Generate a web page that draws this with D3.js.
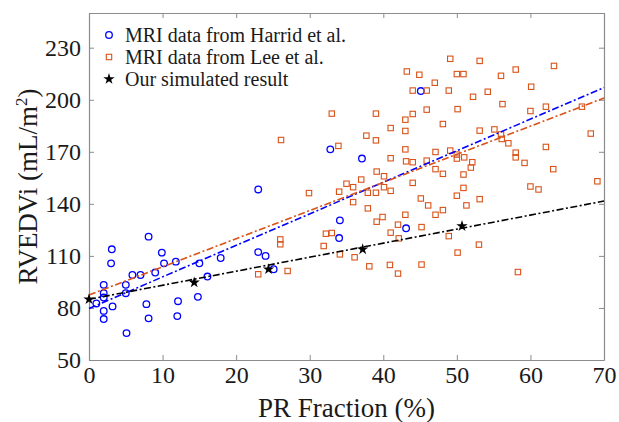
<!DOCTYPE html>
<html>
<head>
<meta charset="utf-8">
<script src="https://cdn.jsdelivr.net/npm/d3@7"></script>
<style>
  body { margin: 0; background: #fff; }
  svg text { font-family: "Liberation Serif", "Times New Roman", serif; fill: #1a1a1a; }
</style>
</head>
<body>
<div id="chart"></div>
<script>
// MRI data from Harrid et al. (PR fraction %, RVEDVi)
let harridX = [23.0, 8.1, 3.1, 9.9, 3.0, 10.2, 11.8, 17.9, 23.0, 24.0, 15.0, 5.9, 7.0, 9.0, 2.0, 5.0, 16.1, 2.0, 5.0, 2.0,
  1.0, 3.2, 2.0, 7.8, 12.1, 14.8, 2.0, 8.1, 12.0, 5.1, 25.1, 34.1, 34.0, 43.1, 32.8, 37.1, 45.1]
let harridY = [148.3, 121.1, 113.8, 111.9, 105.7, 105.7, 106.7, 108.8, 112.2, 110.0, 105.7, 99.0, 99.0, 100.4, 93.3, 93.3, 98.1, 88.5, 88.5, 86.0,
  82.6, 80.9, 78.3, 82.2, 83.9, 86.4, 73.6, 74.0, 75.3, 65.5, 102.3, 130.5, 120.3, 125.9, 171.4, 166.1, 205.0]

// MRI data from Lee et al.
let leeX = [43.2, 44.9, 44.0, 45.9, 45.9, 33.0, 39.0, 44.0, 43.0, 41.0, 43.0, 26.1, 37.7, 39.0, 33.9, 43.0, 41.0, 43.1, 44.0, 45.9,
  39.1, 40.1, 37.0, 35.0, 35.9, 40.1, 44.0, 29.9, 34.0, 37.9, 39.0, 41.0, 45.1,
  49.1, 53.1, 63.2, 58.0, 50.0, 50.9, 56.0, 47.0, 48.9, 54.2, 60.1, 52.2, 56.2, 62.1, 67.0, 50.1, 60.0, 48.1,
  53.1, 55.1, 56.0, 56.1, 57.0, 68.2, 62.1, 47.1, 49.1, 50.0, 50.0, 51.0, 58.0, 58.0, 52.1, 59.2, 47.1, 48.1,
  51.9, 50.9, 63.1, 69.1, 50.9, 60.0, 61.1, 50.0, 53.1,
  46.1, 51.3, 48.1, 47.1, 45.2, 48.9, 53.0, 50.1, 45.2, 58.3,
  35.9, 37.9, 43.0, 39.9, 39.1, 42.0, 32.2, 33.0, 26.0, 26.0, 41.0, 42.1, 31.9, 34.1, 36.1, 27.0, 23.0, 38.1, 40.9, 42.0]
let leeY = [216.3, 214.4, 205.3, 205.3, 194.3, 192.0, 192.0, 191.8, 188.5, 183.7, 182.0, 176.8, 179.3, 176.6, 173.4, 171.4, 166.3, 164.5, 164.0, 164.9,
  158.6, 155.9, 154.0, 151.6, 149.6, 149.6, 152.1, 146.2, 147.0, 146.4, 146.4, 147.5, 143.1,
  223.6, 222.4, 219.5, 217.4, 214.8, 214.8, 213.8, 209.8, 205.3, 204.6, 207.5, 201.7, 197.5, 196.0, 196.0, 194.6, 193.5, 186.0,
  182.2, 182.9, 180.0, 177.4, 174.9, 180.5, 172.8, 169.9, 170.7, 168.4, 166.1, 166.8, 169.5, 166.8, 164.0, 163.6, 160.0, 157.3,
  160.9, 156.9, 160.0, 153.0, 149.2, 150.0, 148.3, 144.7, 142.7,
  139.1, 139.1, 136.4, 133.7, 126.6, 121.4, 116.5, 111.9, 105.0, 100.7,
  141.0, 137.4, 133.7, 132.4, 129.7, 128.0, 122.8, 123.2, 119.5, 116.7, 123.4, 120.1, 115.7, 110.9, 109.2, 101.3, 99.4, 104.0, 104.8, 99.8]

// Our simulated result
let simX = [0, 14.3, 24.4, 37.2, 50.7]
let simY = [85.0, 94.7, 102.3, 113.8, 127.2]

// linear fits, value at x = 0 and x = 70
let fitX = [0, 70]
let harridFit = [79.7, 207.0]
let leeFit = [87.5, 201.0]
let simFit = [85.0, 141.6]

let xTicks = [0, 10, 20, 30, 40, 50, 60, 70]
let yTicks = [50, 80, 110, 140, 170, 200, 230]
let legendLabels = ["MRI data from Harrid et al.", "MRI data from Lee et al.", "Our simulated result"]

function generateChart() {
  let width = 619
  let height = 422
  let margin = ({top: 13, right: 15, bottom: 62, left: 89})

  let blue = "#0000ff"
  let orange = "#d95319"
  let axisColor = "#8c8c8c"
  let serif = "'Liberation Serif', 'Times New Roman', serif"

  let x = d3.scaleLinear([0, 70], [margin.left, width - margin.right])
  let y = d3.scaleLinear([50, 250], [height - margin.bottom, margin.top])

  const svg = d3.create("svg")
    .attr("width", width)
    .attr("height", height)
    .attr("viewBox", [0, 0, width, height])
    .style("background", "white")

  // axes, ticks pointing inward like matlab
  let styleAxis = g => g
    .attr("font-family", serif)
    .call(g => g.select(".domain").attr("stroke", axisColor).attr("stroke-width", 1.2))
    .call(g => g.selectAll(".tick line").attr("stroke", axisColor))
    .call(g => g.selectAll(".tick text").attr("fill", "#1a1a1a").attr("font-size", 24).style("font-family", serif))

  svg.append("g")
    .attr("transform", `translate(0,${y(50)})`)
    .call(d3.axisBottom(x).tickValues(xTicks).tickSize(-5).tickPadding(6).tickSizeOuter(0))
    .call(styleAxis)
  svg.append("g")
    .attr("transform", `translate(0,${y(250)})`)
    .call(d3.axisTop(x).tickValues(xTicks).tickSize(-5).tickFormat("").tickSizeOuter(0))
    .call(styleAxis)
  svg.append("g")
    .attr("transform", `translate(${x(0)},0)`)
    .call(d3.axisLeft(y).tickValues(yTicks).tickSize(-5).tickPadding(8).tickSizeOuter(0))
    .call(styleAxis)
  svg.append("g")
    .attr("transform", `translate(${x(70)},0)`)
    .call(d3.axisRight(y).tickValues(yTicks).tickSize(-5).tickFormat("").tickSizeOuter(0))
    .call(styleAxis)

  // axis titles
  svg.append("text")
    .attr("x", (x(0) + x(70)) / 2)
    .attr("y", 417)
    .attr("text-anchor", "middle")
    .attr("font-size", 27)
    .text("PR Fraction (%)")

  let yt = svg.append("text")
    .attr("transform", `translate(37,${(y(50) + y(250)) / 2}) rotate(-90)`)
    .attr("text-anchor", "middle")
    .attr("font-size", 27)
  yt.append("tspan").text("RVEDVi (mL/m")
  yt.append("tspan").attr("font-size", 17).attr("dy", -10).text("2")
  yt.append("tspan").attr("dy", 10).text(")")

  let harrid = harridX.map((v, i) => [v, harridY[i]])
  let lee = leeX.map((v, i) => [v, leeY[i]])
  let sim = simX.map((v, i) => [v, simY[i]])

  // Harrid circles
  svg.append("g")
    .selectAll("circle")
    .data(harrid)
    .join("circle")
    .attr("cx", d => x(d[0]))
    .attr("cy", d => y(d[1]))
    .attr("r", 3.3)
    .attr("fill", "none")
    .attr("stroke", blue)
    .attr("stroke-width", 1.3)

  // Lee squares
  let sq = 5.4
  svg.append("g")
    .selectAll("rect")
    .data(lee)
    .join("rect")
    .attr("x", d => x(d[0]) - sq / 2)
    .attr("y", d => y(d[1]) - sq / 2)
    .attr("width", sq)
    .attr("height", sq)
    .attr("fill", "none")
    .attr("stroke", orange)
    .attr("stroke-width", 1.1)

  // fit lines
  let line = d3.line().x(d => x(d[0])).y(d => y(d[1]))
  let fits = [
    {vals: harridFit, color: blue},
    {vals: leeFit, color: orange},
    {vals: simFit, color: "#000"}
  ]
  svg.append("g")
    .selectAll("path")
    .data(fits)
    .join("path")
    .attr("d", f => line(fitX.map((v, i) => [v, f.vals[i]])))
    .attr("fill", "none")
    .attr("stroke", f => f.color)
    .attr("stroke-width", 1.6)
    .attr("stroke-dasharray", "7,2.5,2,2.5")

  // simulated stars
  let star = d3.symbol(d3.symbolStar, 40)
  svg.append("g")
    .selectAll("path")
    .data(sim)
    .join("path")
    .attr("transform", d => `translate(${x(d[0])},${y(d[1])})`)
    .attr("d", star)
    .attr("fill", "#000")

  // legend
  let lg = svg.append("g")
  let rowY = [35, 57, 79]
  lg.append("circle").attr("cx", 109).attr("cy", rowY[0]).attr("r", 3.3)
    .attr("fill", "none").attr("stroke", blue).attr("stroke-width", 1.3)
  lg.append("rect").attr("x", 109 - sq / 2).attr("y", rowY[1] - sq / 2).attr("width", sq).attr("height", sq)
    .attr("fill", "none").attr("stroke", orange).attr("stroke-width", 1.1)
  lg.append("path").attr("transform", `translate(109,${rowY[2]})`).attr("d", star).attr("fill", "#000")
  lg.selectAll("text")
    .data(legendLabels)
    .join("text")
    .attr("x", 125)
    .attr("y", (d, i) => rowY[i] + 7)
    .attr("font-size", 20)
    .text(d => d)

  return svg.node();
}

d3.select("#chart").append(generateChart)
</script>
</body>
</html>
